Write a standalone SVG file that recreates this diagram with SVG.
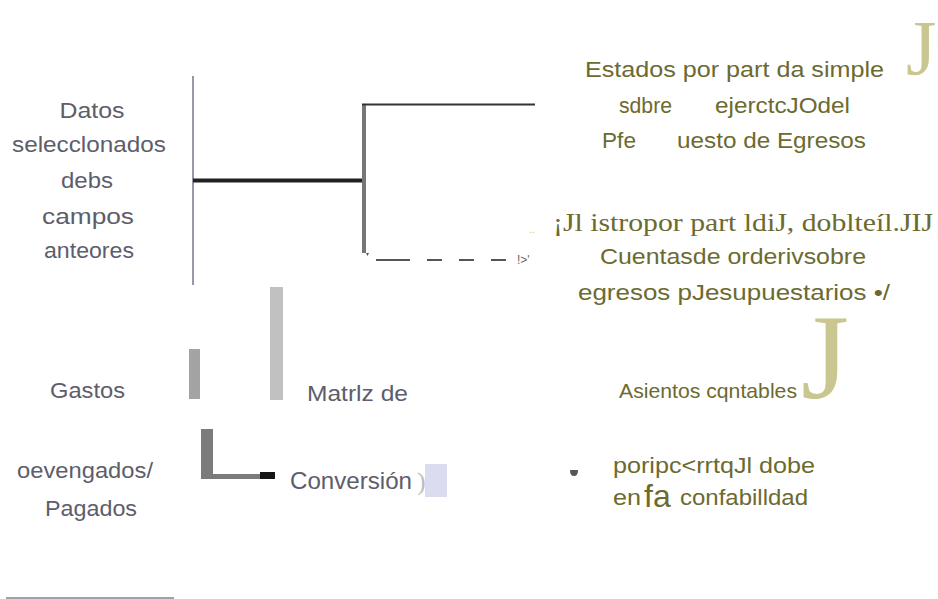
<svg xmlns="http://www.w3.org/2000/svg" width="938" height="599" viewBox="0 0 938 599">
<style>
.g{font-family:"Liberation Sans",Arial,sans-serif;font-size:22px;fill:#5d5d6b}
.o{font-family:"Liberation Sans",Arial,sans-serif;font-size:22px;fill:#6c6a2f}
.s{font-family:"Liberation Serif","Times New Roman",serif;fill:#6c6a2f}
.J{font-family:"Liberation Serif","Times New Roman",serif;fill:#c9c68f}
</style>
<rect width="938" height="599" fill="#fff"/>
<g id="connectors" fill="none">
<line x1="193" y1="76" x2="193" y2="285" stroke="#9898a6" stroke-width="2"/>
<line x1="193" y1="180.5" x2="365" y2="180.5" stroke="#222" stroke-width="4"/>
<line x1="364" y1="104" x2="364" y2="253" stroke="#777" stroke-width="4"/>
<line x1="362" y1="104.5" x2="535" y2="104.5" stroke="#333" stroke-width="2"/>
<path d="M366 253 l3 0 l-1.5 3z" fill="#555"/>
<line x1="376" y1="260" x2="506" y2="260" stroke="#555" stroke-width="2" stroke-dasharray="34 17 15 17 15 17 15"/>
<rect x="189" y="349" width="11" height="50" fill="#a3a3a3"/>
<rect x="270" y="287" width="13" height="113" fill="#c1c1c1"/>
<path d="M201 429 h12 v45 h47 v5 h-59z" fill="#7b7b7b"/>
<rect x="260" y="472" width="15" height="7" fill="#151515"/>
<line x1="6" y1="598" x2="174" y2="598" stroke="#a0a0ae" stroke-width="2"/>
</g>
<g id="datos">
<text class="g" x="92" y="118" text-anchor="middle" textLength="65" lengthAdjust="spacingAndGlyphs">Datos</text>
<text class="g" x="89" y="152" text-anchor="middle" textLength="154" lengthAdjust="spacingAndGlyphs">selecclonados</text>
<text class="g" x="87" y="188" text-anchor="middle" textLength="52" lengthAdjust="spacingAndGlyphs">debs</text>
<text class="g" x="88" y="224" text-anchor="middle" textLength="92" lengthAdjust="spacingAndGlyphs">campos</text>
<text class="g" x="89" y="258" text-anchor="middle" textLength="90" lengthAdjust="spacingAndGlyphs">anteores</text>
</g>
<g id="estados">
<text class="o" x="585" y="77" textLength="299" lengthAdjust="spacingAndGlyphs">Estados por part da simple</text>
<text class="J" x="906" y="74" style="font-size:78px">J</text>
<text class="o" x="619" y="113" textLength="53" lengthAdjust="spacingAndGlyphs">sdbre</text>
<text class="o" x="715" y="113" textLength="135" lengthAdjust="spacingAndGlyphs">ejerctcJOdel</text>
<text class="o" x="602" y="148" textLength="34" lengthAdjust="spacingAndGlyphs">Pfe</text>
<text class="o" x="677" y="148" textLength="189" lengthAdjust="spacingAndGlyphs">uesto de Egresos</text>
</g>
<g id="cuentas">
<text x="517" y="264" font-family="Liberation Sans,Arial,sans-serif" font-size="12" fill="#666">!&gt;'</text>
<text x="529" y="233" font-family="Liberation Sans,Arial,sans-serif" font-size="10" fill="#c9c68f">..</text>
<text class="s" x="553" y="231" style="font-size:26px" textLength="380" lengthAdjust="spacingAndGlyphs">¡Jl   istropor part ldiJ, doblteíl.JIJ</text>
<text class="o" x="600" y="264" textLength="266" lengthAdjust="spacingAndGlyphs">Cuentasde orderivsobre</text>
<text class="o" x="578" y="300" textLength="312" lengthAdjust="spacingAndGlyphs">egresos pJesupuestarios  •/</text>
</g>
<g id="asientos">
<text class="J" x="801" y="398" style="font-size:120px" textLength="48" lengthAdjust="spacingAndGlyphs">J</text>
<text class="o" x="619" y="398" style="font-size:21px" textLength="178" lengthAdjust="spacingAndGlyphs">Asientos cqntables</text>
</g>
<g id="gastos">
<text class="g" x="50" y="398" textLength="75" lengthAdjust="spacingAndGlyphs">Gastos</text>
<text class="g" x="17" y="478" textLength="136" lengthAdjust="spacingAndGlyphs">oevengados/</text>
<text class="g" x="45" y="516" textLength="92" lengthAdjust="spacingAndGlyphs">Pagados</text>
</g>
<g id="matriz">
<text class="g" x="307" y="401" textLength="101" lengthAdjust="spacingAndGlyphs">Matrlz de</text>
<text class="g" x="290" y="489" style="font-size:24px" textLength="122" lengthAdjust="spacingAndGlyphs">Conversión</text>
<text x="417" y="490" font-family="Liberation Serif,serif" font-size="26" fill="#bdbdbd">)</text>
<rect x="425" y="464" width="22" height="33" fill="#dcdcf1"/>
</g>
<g id="partida">
<path d="M570 470 h8 q0 6 -4 6 q-4 0 -4 -6z" fill="#555"/>
<text class="o" x="613" y="473" textLength="202" lengthAdjust="spacingAndGlyphs">poripc&lt;rrtqJl dobe</text>
<text class="o" x="613" y="505" textLength="28" lengthAdjust="spacingAndGlyphs">en</text>
<text class="o" x="644" y="507" style="font-size:32px">fa</text>
<text class="o" x="680" y="505" textLength="128" lengthAdjust="spacingAndGlyphs">confabilldad</text>
</g>
</svg>
